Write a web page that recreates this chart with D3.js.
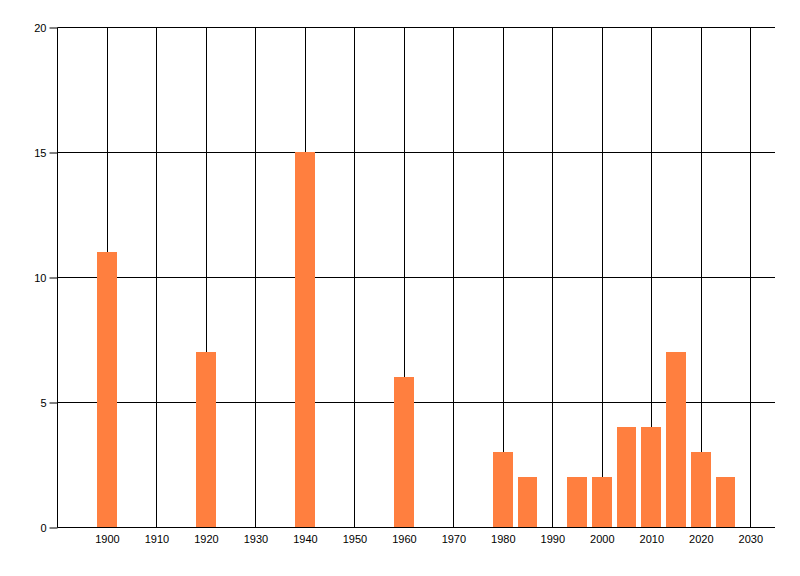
<!DOCTYPE html>
<html>
<head>
<meta charset="utf-8">
<script src="https://cdn.jsdelivr.net/npm/d3@7"></script>
<style>
  body { margin: 0; background: #fff; }
  svg { display: block; font-family: "Liberation Sans", Arial, sans-serif; }
</style>
</head>
<body>
<div id="chart"></div>
<script>
// Data
const years = [1900, 1920, 1940, 1960, 1980, 1985, 1995, 2000, 2005, 2010, 2015, 2020, 2025];
const counts = [11, 7, 15, 6, 3, 2, 2, 2, 4, 4, 7, 3, 2];
const xTicks = [1900, 1910, 1920, 1930, 1940, 1950, 1960, 1970, 1980, 1990, 2000, 2010, 2020, 2030];
const yTicks = [0, 5, 10, 15, 20];

const width = 800, height = 576;
const plotLeft = 57.5, plotRight = 775, plotTop = 27.5, plotBottom = 527.5;

const svg = d3.select("#chart").append("svg")
  .attr("width", width)
  .attr("height", height);

const x = d3.scaleLinear().domain([1890, 2035]).range([plotLeft, plotRight]);
const y = d3.scaleLinear().domain([0, 20]).range([plotBottom, plotTop]);

// vertical gridlines
svg.append("g")
  .selectAll("line")
  .data(xTicks)
  .join("line")
  .attr("x1", d => Math.round(x(d)) + 0.5)
  .attr("x2", d => Math.round(x(d)) + 0.5)
  .attr("y1", plotTop)
  .attr("y2", plotBottom)
  .attr("stroke", "#000")
  .attr("stroke-width", 1);

// horizontal gridlines
svg.append("g")
  .selectAll("line")
  .data(yTicks)
  .join("line")
  .attr("x1", plotLeft)
  .attr("x2", plotRight)
  .attr("y1", d => y(d))
  .attr("y2", d => y(d))
  .attr("stroke", "#000")
  .attr("stroke-width", 1);

// bars (4 years wide, centred on the year)
svg.append("g")
  .selectAll("rect")
  .data(years.map((yr, i) => ({ yr, v: counts[i] })))
  .join("rect")
  .attr("x", d => Math.round(x(d.yr - 2)))
  .attr("width", d => Math.round(x(d.yr + 2)) - Math.round(x(d.yr - 2)))
  .attr("y", d => y(d.v) - 0.5)
  .attr("height", d => y(0) - y(d.v) + 0.5)
  .attr("fill", "#ff7f3f");

// y axis
const yAxis = d3.axisLeft(y).tickValues(yTicks).tickSize(8).tickPadding(3);
svg.append("g")
  .attr("transform", `translate(${plotLeft},0)`)
  .call(yAxis)
  .call(g => g.select(".domain").attr("d", `M0,${plotTop}V${plotBottom}`))
  .call(g => g.selectAll("text").attr("font-size", 11).attr("fill", "#000").attr("font-family", "Liberation Sans, Arial, sans-serif"));

// x axis
const xAxis = d3.axisBottom(x).tickValues(xTicks).tickFormat(d3.format("d")).tickSize(0).tickPadding(8);
svg.append("g")
  .attr("transform", `translate(0,${plotBottom})`)
  .call(xAxis)
  .call(g => g.select(".domain").attr("d", `M${plotLeft},0H${plotRight}`))
  .call(g => g.selectAll("text").attr("font-size", 11).attr("fill", "#000").attr("font-family", "Liberation Sans, Arial, sans-serif"));
</script>
</body>
</html>
